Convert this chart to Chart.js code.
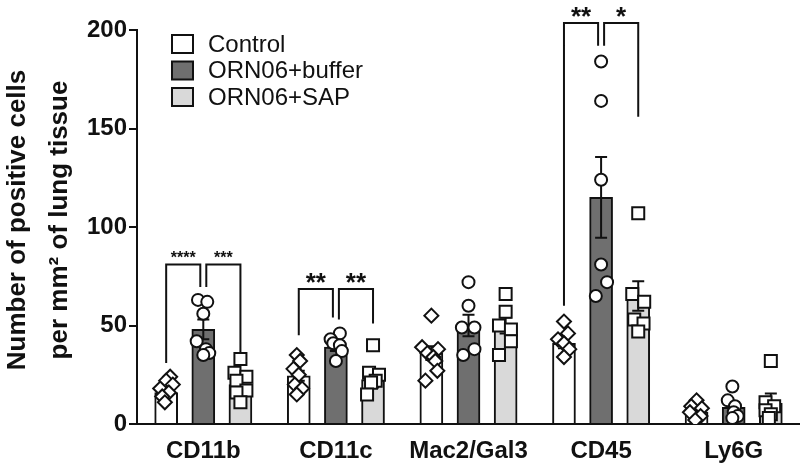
<!DOCTYPE html>
<html>
<head>
<meta charset="utf-8">
<script src="https://cdn.jsdelivr.net/npm/chart.js@4.4.0/dist/chart.umd.min.js"></script>
<style>
  html, body { margin: 0; padding: 0; background: #fff; }
</style>
</head>
<body>
<canvas id="chart-area" width="800" height="465"></canvas>
<script>
var categories = ['CD11b', 'CD11c', 'Mac2/Gal3', 'CD45', 'Ly6G'];
var seriesNames = ['Control', 'ORN06+buffer', 'ORN06+SAP'];

// bar heights (mean) and SEM
var controlMean = [16, 24.5, 36, 41, 6];
var bufferMean = [48, 39, 50, 115, 8.5];
var sapMean = [20, 22.5, 50, 65, 10.5];

var controlSem = [1.5, 2.5, 3.5, 2.5, 1.5];
var bufferSem = [5, 2, 5.5, 20.5, 2.5];
var sapSem = [3, 4, 4, 7.5, 5];

// individual animals
var controlPoints = [
  [24, 22, 20, 18, 16, 14, 11],
  [35, 32, 28, 25, 20, 18, 15],
  [55, 39, 38, 36, 34, 32, 27, 22],
  [52, 46, 43, 41, 38, 34],
  [12, 9, 8, 6, 4, 2]
];
var bufferPoints = [
  [63, 62, 56, 42, 38, 36, 35],
  [46, 43, 41, 40, 37, 32],
  [72, 60, 49, 49, 38, 35],
  [184, 164, 124, 81, 72, 65],
  [19, 12, 9, 6, 4, 3]
];
var sapPoints = [
  [33, 26, 24, 22, 17, 16, 11],
  [40, 26, 25, 22, 21, 15],
  [66, 57, 50, 48, 42, 35],
  [107, 66, 62, 53, 51, 47],
  [32, 11, 9, 7, 5, 3]
];

// horizontal scatter of the dots (category units)
var controlJitter = [
  [0.03, 0, 0.05, -0.045, 0.02, -0.03, -0.01],
  [-0.015, 0.01, -0.04, 0, -0.03, 0.025, -0.015],
  [0, -0.07, 0.05, -0.03, 0.015, 0.03, 0.045, -0.045],
  [0, 0.03, -0.045, 0, 0.04, 0],
  [0, -0.04, 0.04, -0.05, 0.03, -0.01]
];
var bufferJitter = [
  [-0.04, 0.03, 0, -0.05, 0.02, 0.045, 0],
  [0.03, -0.04, -0.02, 0.03, 0.045, 0],
  [0, 0, -0.05, 0.045, 0.045, -0.04],
  [0, 0, 0, 0, 0.045, -0.04],
  [-0.01, -0.045, 0.01, 0, 0.03, -0.01]
];
var sapJitter = [
  [0, -0.045, 0.045, -0.03, 0.045, -0.03, 0],
  [0, -0.03, 0.045, 0.02, -0.015, -0.045],
  [0, 0, -0.05, 0.04, 0.04, -0.05],
  [0, -0.045, 0.045, -0.03, 0.04, 0],
  [0, -0.04, 0.025, -0.04, 0, -0.015]
];

// significance brackets: category, group a, group b, top, leg a end, leg b end, stars
var brackets = [
  [0, 0, 1, 81, 31, 69.5, '****'],
  [0, 1, 2, 81, 69.5, 36, '***'],
  [1, 0, 1, 68.5, 45, 54, '**'],
  [1, 1, 2, 68.5, 53, 51, '**'],
  [3, 0, 1, 203.5, 60, 192, '**'],
  [3, 1, 2, 203.5, 192, 156, '*']
];

var yTitle = ['Number of positive cells', 'per mm\u00b2 of lung tissue'];

var fam = '"Liberation Sans", Arial, sans-serif';
var fills = ['#ffffff', '#6f6f6f', '#d9d9d9'];
var shapes = ['rectRot', 'circle', 'rect'];
var radii = [7, 6, 8.5];
var groupShift = [-0.28, 0, 0.28];

function makePoints(points, jitter, shift) {
  var out = [];
  points.forEach(function(vals, i) {
    vals.forEach(function(v, j) {
      out.push({ x: i + shift + jitter[i][j], y: v });
    });
  });
  return out;
}

var means = [controlMean, bufferMean, sapMean];
var sems = [controlSem, bufferSem, sapSem];
var allPoints = [
  makePoints(controlPoints, controlJitter, groupShift[0]),
  makePoints(bufferPoints, bufferJitter, groupShift[1]),
  makePoints(sapPoints, sapJitter, groupShift[2])
];

var datasets = [];
means.forEach(function(m, s) {
  datasets.push({
    type: 'bar',
    label: seriesNames[s],
    data: m.map(function(v, i) { return { x: i + groupShift[s], y: v }; }),
    xAxisID: 'xs',
    grouped: false,
    barThickness: 23,
    backgroundColor: fills[s],
    borderColor: '#111',
    borderWidth: 2,
    order: 2
  });
});
allPoints.forEach(function(p, s) {
  datasets.push({
    type: 'scatter',
    label: seriesNames[s] + ' dots',
    data: p,
    xAxisID: 'xs',
    pointStyle: shapes[s],
    pointRadius: radii[s],
    pointBackgroundColor: '#fff',
    pointBorderColor: '#111',
    pointBorderWidth: 2,
    order: 1
  });
});

var errorBars = {
  id: 'errorBars',
  afterDatasetDraw: function(chart, args) {
    if (args.index > 2) return;
    var ctx = chart.ctx, y = chart.scales.y;
    ctx.save();
    ctx.strokeStyle = '#111';
    ctx.lineWidth = 2;
    args.meta.data.forEach(function(bar, i) {
      var m = means[args.index][i], e = sems[args.index][i];
      var top = y.getPixelForValue(m + e), bot = y.getPixelForValue(m - e);
      ctx.beginPath();
      ctx.moveTo(bar.x, top); ctx.lineTo(bar.x, bot);
      ctx.moveTo(bar.x - 6, top); ctx.lineTo(bar.x + 6, top);
      ctx.moveTo(bar.x - 6, bot); ctx.lineTo(bar.x + 6, bot);
      ctx.stroke();
    });
    ctx.restore();
  }
};

var extras = {
  id: 'extras',
  afterDraw: function(chart) {
    var ctx = chart.ctx, y = chart.scales.y;
    ctx.save();
    // brackets
    ctx.strokeStyle = '#111';
    ctx.lineWidth = 2;
    ctx.fillStyle = '#111';
    brackets.forEach(function(b) {
      var xa = chart.getDatasetMeta(b[1]).data[b[0]].x + (b[1] === 1 ? 3 : 0);
      var xb = chart.getDatasetMeta(b[2]).data[b[0]].x - (b[2] === 1 ? 3 : 0);
      var yt = y.getPixelForValue(b[3]);
      ctx.beginPath();
      ctx.moveTo(xa, y.getPixelForValue(b[4]));
      ctx.lineTo(xa, yt);
      ctx.lineTo(xb, yt);
      ctx.lineTo(xb, y.getPixelForValue(b[5]));
      ctx.stroke();
      var small = b[6].length > 2;
      ctx.font = 'bold ' + (small ? 16 : 26) + 'px ' + fam;
      ctx.textAlign = 'center';
      ctx.textBaseline = 'alphabetic';
      ctx.fillText(b[6], (xa + xb) / 2, yt + (small ? -1 : 2));
    });
    // legend
    seriesNames.forEach(function(name, s) {
      var by = 35 + s * 26.5;
      ctx.fillStyle = fills[s];
      ctx.fillRect(172, by, 21, 18);
      ctx.strokeRect(172, by, 21, 18);
      ctx.fillStyle = '#111';
      ctx.font = '24px ' + fam;
      ctx.textAlign = 'left';
      ctx.textBaseline = 'middle';
      ctx.fillText(name, 208, by + 10);
    });
    // y axis title
    ctx.font = 'bold 26px ' + fam;
    ctx.textAlign = 'center';
    ctx.textBaseline = 'alphabetic';
    [25, 67].forEach(function(x, k) {
      ctx.save();
      ctx.translate(x, 220);
      ctx.rotate(-Math.PI / 2);
      ctx.fillText(yTitle[k], 0, 0);
      ctx.restore();
    });
    ctx.restore();
  }
};

var config = {
  type: 'bar',
  data: {
    labels: categories,
    datasets: datasets
  },
  options: {
    responsive: false,
    animation: false,
    layout: { autoPadding: false, padding: { top: 30, left: 0, right: 0, bottom: 0 } },
    plugins: {
      legend: { display: false },
      tooltip: { enabled: false }
    },
    scales: {
      x: {
        type: 'category',
        offset: true,
        grid: { display: false },
        border: { display: true, color: '#111', width: 2 },
        ticks: {
          color: '#111',
          padding: 5,
          maxRotation: 0,
          font: { family: fam, size: 24, weight: 'bold' }
        },
        afterFit: function(scale) {
          scale.height = 41;
          scale.paddingLeft = 0;
          scale.paddingRight = 0;
        }
      },
      xs: {
        type: 'linear',
        display: false,
        offset: false,
        min: -0.5,
        max: 4.5
      },
      y: {
        min: 0,
        max: 200,
        ticks: {
          stepSize: 50,
          color: '#111',
          padding: 2,
          font: { family: fam, size: 24, weight: 'bold' }
        },
        grid: {
          drawOnChartArea: false,
          drawTicks: true,
          tickLength: 8,
          color: '#111',
          lineWidth: 2
        },
        border: { display: true, color: '#111', width: 2 },
        afterFit: function(scale) { scale.width = 137; }
      }
    }
  },
  plugins: [errorBars, extras]
};

window.onload = function() {
  var ctx = document.getElementById('chart-area').getContext('2d');
  window.myBars = new Chart(ctx, config);
};
</script>
</body>
</html>
